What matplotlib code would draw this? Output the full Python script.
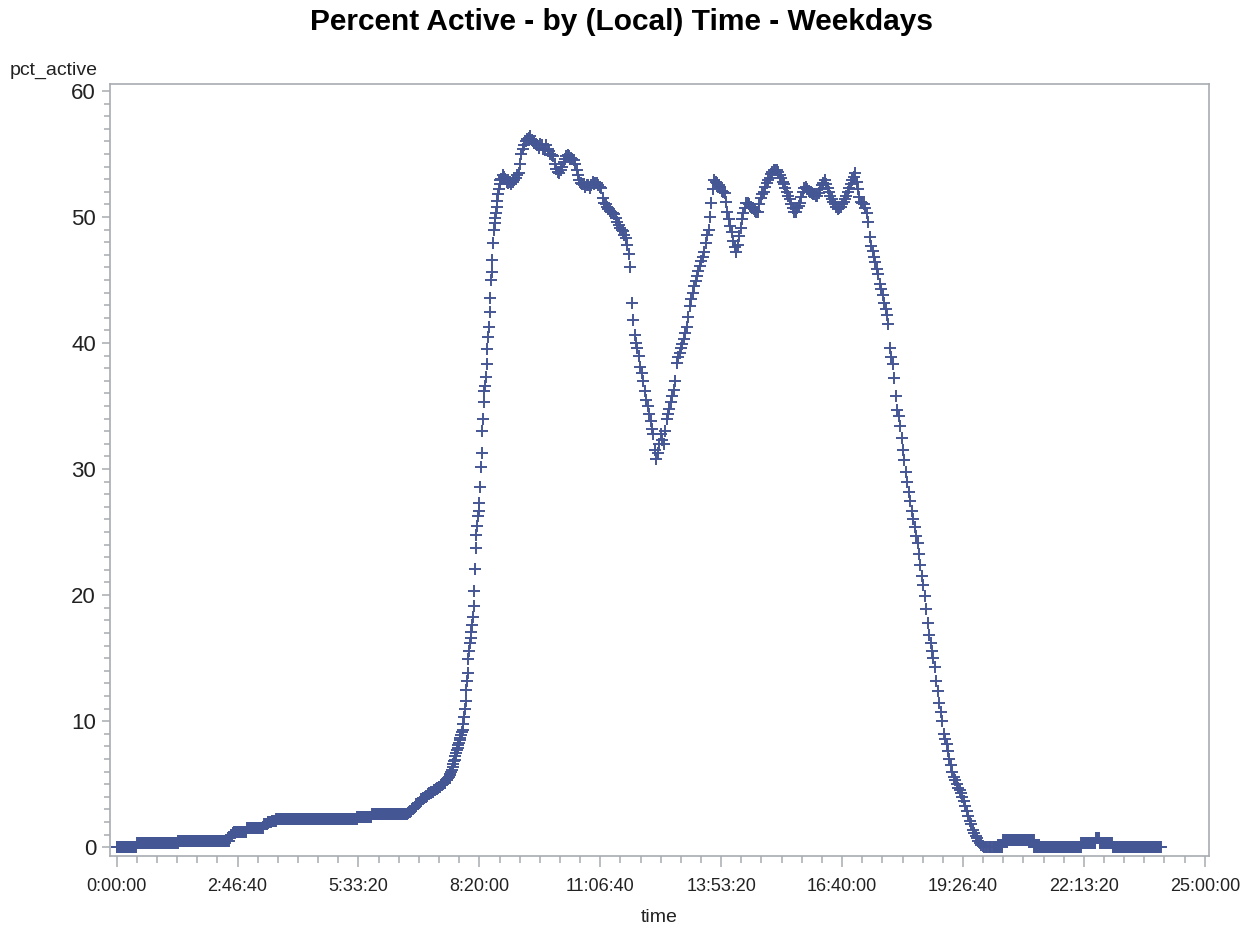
import numpy as np
import matplotlib
matplotlib.use("Agg")
import matplotlib.pyplot as plt
from matplotlib.ticker import FixedLocator, MultipleLocator, FuncFormatter

plt.rcParams["font.family"] = ["Liberation Sans", "DejaVu Sans"]

# pct_active readings, one per minute unless noted
# 0:00 - 6:40 plateaus: level and how many minutes it lasts
night_levels = [0.0, 0.3, 0.5, 0.7, 0.9, 1.0, 1.1, 1.2, 1.5, 1.8, 2.0, 2.1, 2.25, 2.4, 2.6]
night_counts = [28, 57, 71, 1, 1, 2, 2, 18, 23, 5, 6, 6, 112, 20, 49]

# 6:41 - 7:39, every minute (slow early climb)
climb_start = 401
climb_vals = [
    2.7, 2.7, 2.8, 2.8, 2.9, 2.9, 3.0, 3.0, 3.1, 3.1,
    3.2, 3.3, 3.3, 3.4, 3.4, 3.5, 3.5, 3.6, 3.7, 3.8,
    3.8, 3.9, 3.9, 3.9, 4.0, 4.0, 4.1, 4.1, 4.2, 4.2,
    4.3, 4.3, 4.3, 4.4, 4.4, 4.4, 4.5, 4.5, 4.5, 4.6,
    4.6, 4.7, 4.7, 4.8, 4.8, 4.8, 4.9, 4.9, 5.0, 5.0,
    5.1, 5.1, 5.2, 5.3, 5.3, 5.4, 5.5, 5.6, 5.7,
]

# 7:40 - 8:49, every minute (morning ramp)
ramp_start = 460
ramp_vals = [
    5.8, 6.0, 6.1, 6.4, 6.6, 6.8, 6.9, 7.2, 7.5, 7.7,
    7.9, 8.1, 8.3, 8.5, 8.7, 8.9, 9.1, 9.3, 9.8, 10.3,
    11.0, 11.6, 12.5, 13.2, 13.8, 14.9, 15.6, 16.2, 16.6, 17.1,
    17.6, 18.3, 19.1, 20.3, 22.1, 23.7, 24.8, 25.5, 26.3, 26.7,
    27.3, 28.6, 30.2, 31.3, 33.0, 34.0, 35.3, 36.2, 36.6, 37.3,
    38.3, 39.5, 40.5, 41.3, 42.5, 43.6, 45.0, 45.6, 46.6, 47.9,
    49.0, 49.5, 49.9, 50.3, 50.8, 51.3, 51.8, 52.2, 52.6, 52.9,
]

# 8:50 - 20:08, every 2 min
day_start, day_step = 530, 2
day_vals = [
    53.0, 53.3, 53.2, 53.0, 52.8, 52.7, 52.8, 52.6, 52.8, 52.9,
    53.1, 53.3, 53.5, 54.2, 55.0, 55.4, 55.7, 56.0, 56.2, 56.3,
    56.4, 56.1, 56.0, 55.9, 55.8, 55.7, 55.5, 55.8, 55.7, 55.4,
    55.3, 55.7, 55.4, 55.2, 55.0, 54.9, 54.8, 54.2, 53.8, 53.6,
    53.5, 53.7, 54.0, 54.4, 54.6, 54.8, 54.9, 54.8, 54.7, 54.6,
    54.5, 54.2, 53.7, 53.3, 52.9, 52.7, 52.6, 52.6, 52.4, 52.5,
    52.5, 52.3, 52.5, 52.8, 52.6, 52.7, 52.7, 52.5, 52.4, 52.3,
    51.5, 51.1, 51.0, 50.8, 50.6, 50.5, 50.4, 50.3, 50.2, 49.9,
    49.6, 49.4, 49.1, 49.0, 48.9, 48.6, 48.3, 47.8, 47.1, 46.0,
    43.2, 41.8, 40.6, 40.0, 39.6, 39.0, 38.1, 37.6, 37.0, 36.2,
    35.5, 35.0, 34.4, 33.8, 33.2, 32.8, 31.5, 30.8, 31.3, 32.0,
    32.8, 32.3, 32.0, 33.0, 34.0, 34.4, 34.8, 35.3, 35.8, 36.3,
    37.0, 38.4, 38.9, 39.2, 39.6, 39.9, 40.3, 40.8, 41.3, 42.1,
    42.9, 43.5, 44.0, 44.5, 44.9, 45.3, 45.7, 46.1, 46.5, 46.8,
    47.2, 47.9, 48.6, 49.0, 50.0, 51.1, 52.2, 52.9, 52.8, 52.7,
    52.5, 52.4, 52.1, 52.0, 51.9, 51.2, 50.4, 49.8, 49.3, 48.8,
    48.1, 47.6, 47.2, 47.8, 48.5, 49.1, 49.8, 50.3, 50.7, 51.1,
    51.1, 51.0, 50.8, 50.7, 50.6, 50.5, 50.4, 50.4, 51.0, 51.5,
    51.8, 52.0, 52.4, 52.7, 52.9, 53.1, 53.4, 53.6, 53.7, 53.7,
    53.7, 53.6, 53.3, 53.1, 52.8, 52.6, 52.3, 52.0, 51.7, 51.4,
    51.0, 50.7, 50.4, 50.4, 50.7, 50.9, 51.1, 51.6, 52.0, 52.3,
    52.4, 52.2, 52.1, 52.0, 51.9, 51.8, 51.8, 51.7, 51.7, 51.9,
    52.2, 52.5, 52.7, 52.9, 52.6, 52.3, 52.0, 51.7, 51.4, 51.2,
    51.0, 50.8, 50.6, 50.7, 50.8, 51.0, 51.2, 51.4, 51.7, 52.0,
    52.3, 52.6, 52.9, 53.2, 53.5, 52.8, 52.2, 51.6, 51.2, 51.1,
    51.0, 50.7, 50.3, 49.6, 48.4, 47.7, 47.3, 46.8, 46.4, 45.9,
    45.5, 44.7, 44.3, 43.8, 43.2, 42.7, 42.2, 41.5, 39.6, 38.9,
    38.3, 37.2, 35.8, 34.7, 34.2, 33.4, 32.5, 31.5, 30.7, 29.8,
    29.0, 28.2, 27.5, 26.7, 26.0, 25.4, 24.7, 24.1, 23.3, 22.4,
    21.5, 20.8, 19.9, 18.9, 17.8, 16.8, 16.2, 15.6, 15.0, 14.3,
    13.2, 12.4, 11.4, 10.7, 10.0, 9.0, 8.6, 8.2, 7.6, 7.0,
    6.5, 6.0, 5.6, 5.3, 5.0, 4.7, 4.5, 4.3, 4.0, 3.7,
    3.3, 2.9, 2.5, 2.1, 1.8, 1.4, 1.1, 0.9, 0.7, 0.5,
    0.3, 0.2, 0.1, 0.0, 0.0, 0.0, 0.0, 0.0, 0.0, 0.0,
]

# 20:10 - 23:59 plateaus, one reading per minute
late_start = 1210
late_levels = [0.0, 0.55, 0.0, 0.35, 0.7, 0.35, 0.0]
late_counts = [12, 43, 65, 20, 5, 18, 67]

x_ticks = np.arange(0, 90001, 10000)


def minutes(start, step, n):
    return start + step * np.arange(n)


night_vals = np.repeat(night_levels, night_counts)
late_vals = np.repeat(late_levels, late_counts)

t = np.concatenate([
    minutes(0, 1, len(night_vals)),
    minutes(climb_start, 1, len(climb_vals)),
    minutes(ramp_start, 1, len(ramp_vals)),
    minutes(day_start, day_step, len(day_vals)),
    minutes(late_start, 1, len(late_vals)),
]) * 60
y = np.concatenate([night_vals, climb_vals, ramp_vals, day_vals, late_vals])


def hms(s, pos=None):
    s = int(round(s))
    return f"{s // 3600}:{(s % 3600) // 60:02d}:{s % 60:02d}"


fig = plt.figure(figsize=(12.43, 9.34), dpi=100)
ax = fig.add_axes([110 / 1243, 78 / 934, 1099 / 1243, 772 / 934])

ax.plot(t, y, linestyle="none", marker="+", color="#445694",
        markersize=9, markeredgewidth=1.4)

ax.set_xlim(-550, 90350)
ax.set_ylim(-0.7, 60.55)

ax.xaxis.set_major_locator(FixedLocator(x_ticks))
ax.xaxis.set_major_formatter(FuncFormatter(hms))
ax.xaxis.set_minor_locator(MultipleLocator(10000 / 6))
ax.yaxis.set_major_locator(MultipleLocator(10))
ax.yaxis.set_minor_locator(MultipleLocator(1))

for sp in ax.spines.values():
    sp.set_color("#a8acb0")
    sp.set_linewidth(1.2)

ax.tick_params(axis="both", which="both", color="#a8acb0", width=1.1)
ax.tick_params(axis="x", which="major", length=8, labelsize=13, pad=8, labelcolor="#222222")
ax.tick_params(axis="x", which="minor", length=5)
ax.tick_params(axis="y", which="major", length=6, labelsize=16, pad=4, labelcolor="#222222")
ax.tick_params(axis="y", which="minor", length=4)

ax.set_xlabel("time", fontsize=14, color="#222222", labelpad=10)
fig.text(98 / 1243, 1 - 70 / 934, "pct_active", fontsize=14, color="#222222",
         ha="right", va="center")
fig.text(0.5, 1 - 22 / 934, "Percent Active - by (Local) Time - Weekdays",
         fontsize=21.5, fontweight="bold", ha="center", va="center")

fig.savefig("out.png", dpi=100)
